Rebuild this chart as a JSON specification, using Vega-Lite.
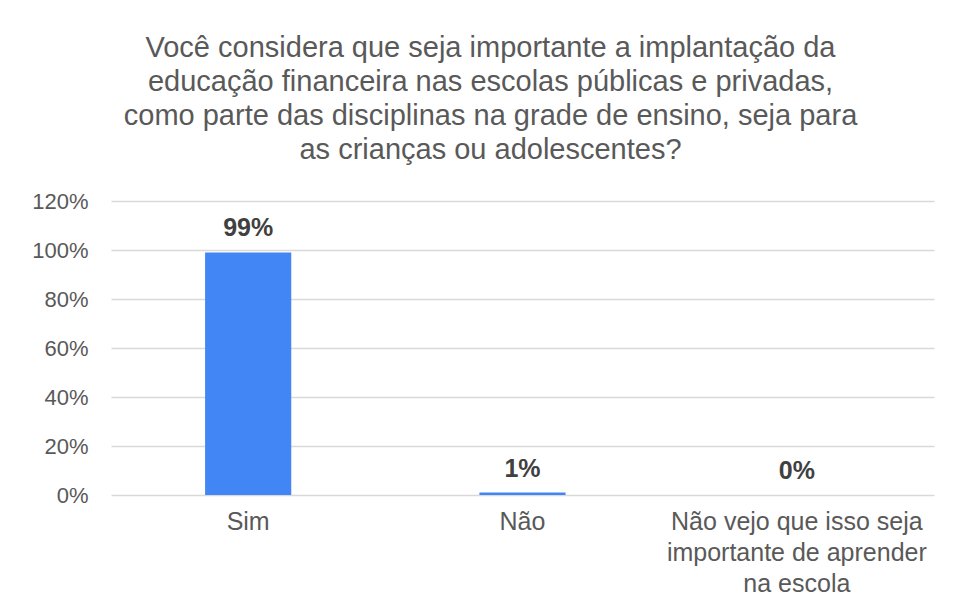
{
  "$schema": "https://vega.github.io/schema/vega-lite/v6.json",
  "autosize": {"type": "none"},
  "width": 823,
  "height": 294,
  "padding": {"left": 111, "top": 201, "right": 19, "bottom": 111},
  "background": "white",
  "title": {
    "text": ["Você considera que seja importante a implantação da", "educação financeira nas escolas públicas e privadas,", "como parte das disciplinas na grade de ensino, seja para", "as crianças ou adolescentes?"],
    "anchor": "middle",
    "frame": "group",
    "dx": -32,
    "offset": 25,
    "font": "Liberation Sans",
    "fontSize": 29,
    "fontWeight": "normal",
    "color": "#595959",
    "lineHeight": 34
  },
  "data": {
    "values": [
      {"resposta": "Sim", "pct": 0.99},
      {"resposta": "Não", "pct": 0.01},
      {"resposta": "Não vejo que isso seja importante de aprender na escola", "pct": 0.0}
    ]
  },
  "encoding": {
    "x": {
      "field": "resposta",
      "type": "nominal",
      "sort": null,
      "scale": {"paddingInner": 0.686, "paddingOuter": 0.343},
      "axis": {
        "title": null,
        "labelAngle": 0,
        "domain": false,
        "ticks": false,
        "labelPadding": 14,
        "labelFont": "Liberation Sans",
        "labelFontSize": 25,
        "labelColor": "#595959",
        "labelLineHeight": 31,
        "labelLimit": 400,
        "labelExpr": "datum.value == 'Não vejo que isso seja importante de aprender na escola' ? ['Não vejo que isso seja', 'importante de aprender', 'na escola'] : datum.value"
      }
    },
    "y": {
      "field": "pct",
      "type": "quantitative",
      "scale": {"domain": [0, 1.2], "nice": false},
      "axis": {
        "title": null,
        "values": [0, 0.2, 0.4, 0.6, 0.8, 1.0, 1.2],
        "format": ".0%",
        "domain": false,
        "ticks": false,
        "labelPadding": 23,
        "labelFont": "Liberation Sans",
        "labelFontSize": 22,
        "labelColor": "#595959",
        "gridColor": "#d9d9d9",
        "gridWidth": 1.5
      }
    }
  },
  "layer": [
    {"mark": {"type": "bar", "color": "#4285F4"}},
    {
      "mark": {"type": "text", "baseline": "alphabetic", "dy": -16, "font": "Liberation Sans", "fontSize": 25, "fontWeight": "bold", "color": "#404040"},
      "encoding": {"text": {"field": "pct", "type": "quantitative", "format": ".0%"}}
    }
  ],
  "config": {"view": {"stroke": null}}
}
